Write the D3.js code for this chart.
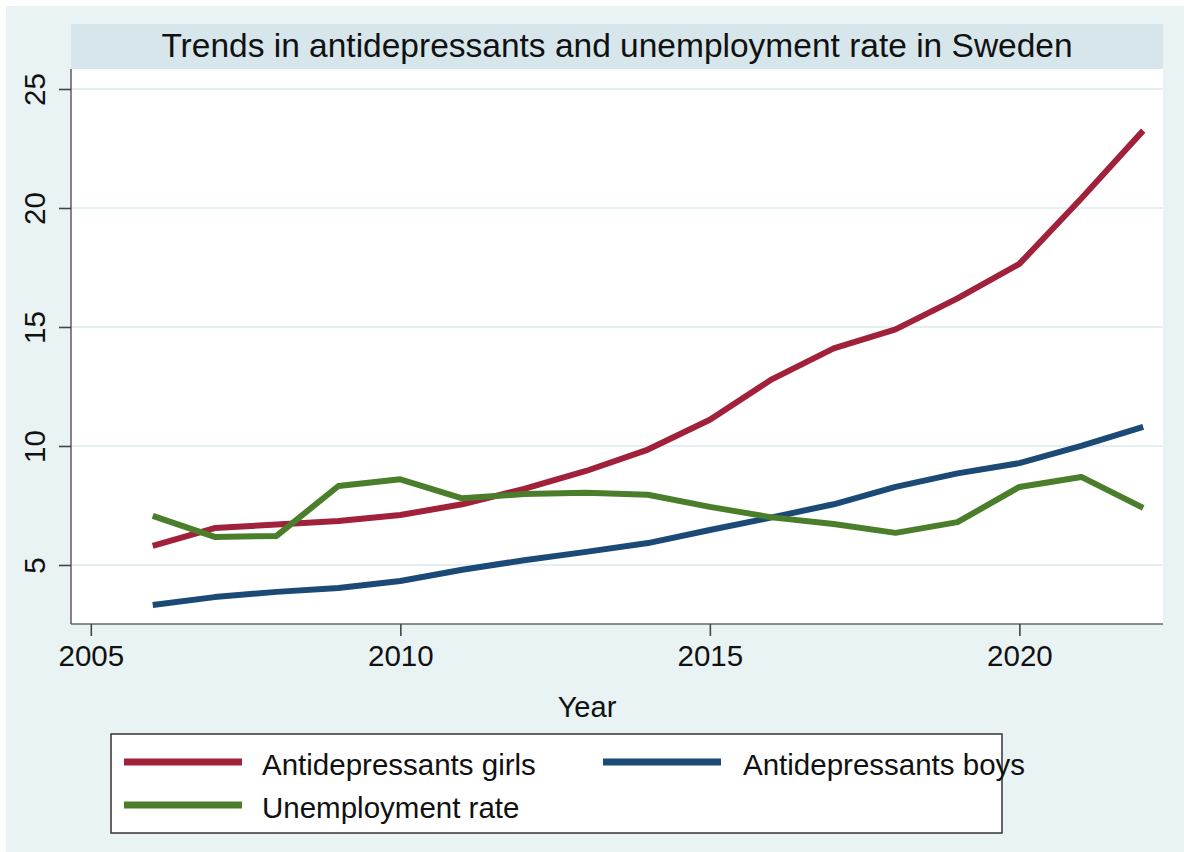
<!DOCTYPE html>
<html>
<head>
<meta charset="utf-8">
<script src="https://cdn.jsdelivr.net/npm/d3@7"></script>
<style>
  body { margin: 0; background: #fff; }
  svg { display: block; font-family: "Liberation Sans", Arial, Helvetica, sans-serif; }
</style>
</head>
<body>
<svg width="1184" height="852"></svg>
<script>
// data
const years = [2006, 2007, 2008, 2009, 2010, 2011, 2012, 2013, 2014, 2015, 2016, 2017, 2018, 2019, 2020, 2021, 2022];
const girls = [5.8, 6.55, 6.7, 6.85, 7.1, 7.55, 8.2, 8.95, 9.85, 11.1, 12.8, 14.1, 14.9, 16.2, 17.65, 20.4, 23.25];
const boys = [3.32, 3.65, 3.87, 4.03, 4.33, 4.8, 5.2, 5.55, 5.92, 6.47, 7.0, 7.55, 8.28, 8.85, 9.28, 10.0, 10.8];
const unemployment = [7.06, 6.18, 6.22, 8.32, 8.6, 7.8, 7.98, 8.03, 7.95, 7.44, 7.0, 6.72, 6.35, 6.8, 8.28, 8.7, 7.4];
const seriesNames = ["Antidepressants girls", "Antidepressants boys", "Unemployment rate"];
const xTicks = [2005, 2010, 2015, 2020];
const yTicks = [5, 10, 15, 20, 25];
const title = "Trends in antidepressants and unemployment rate in Sweden";

const colors = ["#A1203A", "#1B4A77", "#4A7E2B"];

let svg = d3.select("svg");
let plot = { left: 71, right: 1163, top: 69, bottom: 624 };

// background
svg.append("rect").attr("x", 6).attr("y", 6).attr("width", 1178).attr("height", 846).attr("fill", "#EAF3F3");
svg.append("rect").attr("x", plot.left).attr("y", 24).attr("width", plot.right - plot.left).attr("height", plot.top - 24).attr("fill", "#D7E6EB");
svg.append("rect").attr("x", plot.left).attr("y", plot.top).attr("width", plot.right - plot.left).attr("height", plot.bottom - plot.top).attr("fill", "#fff");

svg.append("text")
  .attr("x", (plot.left + plot.right) / 2)
  .attr("y", 57)
  .attr("text-anchor", "middle")
  .attr("font-size", 33.5)
  .attr("fill", "#111")
  .text(title);

let x = d3.scaleLinear().domain([2004.68, 2022.32]).range([plot.left, plot.right]);
let y = d3.scaleLinear().domain([2.52, 25.84]).range([plot.bottom, plot.top]);

// gridlines
svg.append("g")
  .selectAll("line")
  .data(yTicks)
  .enter()
  .append("line")
  .attr("x1", plot.left)
  .attr("x2", plot.right)
  .attr("y1", (d) => y(d))
  .attr("y2", (d) => y(d))
  .attr("stroke", "#E4EFF1")
  .attr("stroke-width", 2);

// axes
let xAxis = svg.append("g")
  .attr("transform", "translate(0," + plot.bottom + ")")
  .call(d3.axisBottom(x).tickValues(xTicks).tickFormat(d3.format("d")).tickSize(12).tickPadding(9));
let yAxis = svg.append("g")
  .attr("transform", "translate(" + plot.left + ",0)")
  .call(d3.axisLeft(y).tickValues(yTicks).tickSize(12).tickPadding(0));

[xAxis, yAxis].forEach((a) => {
  a.select(".domain").attr("stroke", "#666").attr("stroke-width", 1.6);
  a.selectAll(".tick line").attr("stroke", "#444").attr("stroke-width", 1.6);
  a.selectAll("text").attr("font-size", 29.5).attr("fill", "#111").attr("font-family", "Liberation Sans, Arial, sans-serif");
});
xAxis.select(".domain").attr("d", "M" + plot.left + ",0H" + plot.right);
yAxis.select(".domain").attr("d", "M0," + plot.bottom + "V" + plot.top);

yAxis.selectAll(".tick text")
  .attr("x", null)
  .attr("dy", null)
  .attr("text-anchor", "middle")
  .attr("transform", "translate(-26,0) rotate(-90)");

svg.append("text")
  .attr("x", 587)
  .attr("y", 717)
  .attr("text-anchor", "middle")
  .attr("font-size", 29)
  .attr("fill", "#111")
  .text("Year");

// lines
let allSeries = [girls, boys, unemployment];
let line = d3.line().x((d) => x(d[0])).y((d) => y(d[1]));
svg.append("g")
  .selectAll("path")
  .data(allSeries)
  .enter()
  .append("path")
  .attr("d", (s) => line(years.map((yr, i) => [yr, s[i]])))
  .attr("fill", "none")
  .attr("stroke", (s, i) => colors[i])
  .attr("stroke-width", 6)
  .attr("stroke-linejoin", "round");

// legend
svg.append("rect")
  .attr("x", 111).attr("y", 734).attr("width", 891).attr("height", 99)
  .attr("fill", "#fff").attr("stroke", "#333").attr("stroke-width", 1.5);

let legendPos = [
  { lx: 124, tx: 262, y: 762 },
  { lx: 603, tx: 743, y: 762 },
  { lx: 124, tx: 262, y: 805 }
];
let leg = svg.append("g")
  .selectAll("g")
  .data(seriesNames)
  .enter()
  .append("g");
leg.append("line")
  .attr("x1", (d, i) => legendPos[i].lx)
  .attr("x2", (d, i) => legendPos[i].lx + 118)
  .attr("y1", (d, i) => legendPos[i].y)
  .attr("y2", (d, i) => legendPos[i].y)
  .attr("stroke", (d, i) => colors[i])
  .attr("stroke-width", 7);
leg.append("text")
  .attr("x", (d, i) => legendPos[i].tx)
  .attr("y", (d, i) => legendPos[i].y + 12.5)
  .attr("font-size", 29.5)
  .attr("fill", "#111")
  .text((d) => d);
</script>
</body>
</html>
